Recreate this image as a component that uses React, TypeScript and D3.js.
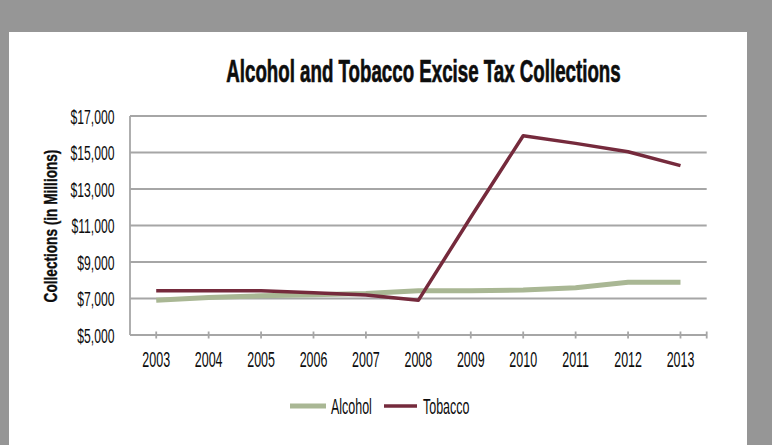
import React from 'react';
import * as d3 from 'd3';

const years = ['2003', '2004', '2005', '2006', '2007', '2008', '2009', '2010', '2011', '2012', '2013'];
const alcohol = [6900, 7050, 7150, 7200, 7280, 7430, 7430, 7460, 7590, 7890, 7890];
const tobacco = [7430, 7430, 7430, 7320, 7190, 6900, 11450, 15920, 15500, 15040, 14280];
const yTicks = [5000, 7000, 9000, 11000, 13000, 15000, 17000];
const seriesNames = ['Alcohol', 'Tobacco'];
const title = 'Alcohol and Tobacco Excise Tax Collections';
const yTitle = 'Collections (in Millions)';

const W = 772;
const H = 445;
const BG = '#969696';
const GRID = '#a6a6a6';
const C_ALC = '#a9b794';
const C_TOB = '#752a3c';
const FONT = '"Liberation Sans", Arial, sans-serif';
const SX = 0.58;
const INK = '#0d0d0d';

const plot = { left: 130, right: 706.7, top: 116, bottom: 335 };

function CText({ x, y, anchor = 'middle', size = 21, weight = 400, sx = SX, rot = 0, stroke = 0, children }: any) {
  return (
    <text
      transform={`translate(${x},${y}) rotate(${rot}) scale(${sx},1)`}
      textAnchor={anchor}
      fontFamily={FONT}
      fontSize={size}
      fontWeight={weight}
      fill={INK}
      stroke={stroke ? INK : 'none'}
      strokeWidth={stroke}
    >
      {children}
    </text>
  );
}

export default function App() {
  const x = d3.scalePoint<string>().domain(years).range([plot.left, plot.right]).padding(0.5);
  const y = d3.scaleLinear().domain([5000, 17000]).range([plot.bottom, plot.top]);
  const line = d3
    .line<number>()
    .x((_, i) => x(years[i]) as number)
    .y((d) => y(d));
  const fmt = (v: number) => '$' + d3.format(',')(v);

  const legendY = 406;

  return (
    <svg width={W} height={H} style={{ position: 'absolute', left: 0, top: 0 }}>
      <rect x={0} y={0} width={W} height={H} fill={BG} />
      <rect x={9} y={32} width={738} height={H - 32} fill="#ffffff" />

      <CText x={423.5} y={81.5} size={32} weight={700} sx={0.585} stroke={0.7}>
        {title}
      </CText>

      {yTicks.map((t) => (
        <g key={t}>
          {t !== 5000 && (
            <line x1={plot.left} x2={plot.right} y1={y(t)} y2={y(t)} stroke={GRID} strokeWidth={1.8} />
          )}
          <CText x={114.5} y={y(t) + 7.5} anchor="end" size={21}>
            {fmt(t)}
          </CText>
        </g>
      ))}

      <line x1={plot.left} x2={plot.left} y1={plot.top} y2={plot.bottom} stroke={GRID} strokeWidth={1.8} />
      <line x1={plot.left} x2={plot.right} y1={plot.bottom} y2={plot.bottom} stroke={GRID} strokeWidth={1.8} />
      {years.map((yr) => (
        <g key={yr}>
          <line
            x1={x(yr)}
            x2={x(yr)}
            y1={plot.bottom - 3.5}
            y2={plot.bottom + 3.5}
            stroke={GRID}
            strokeWidth={1.8}
          />
          <CText x={x(yr) as number} y={366.5} size={21.5}>
            {yr}
          </CText>
        </g>
      ))}
      <line
        x1={plot.right}
        x2={plot.right}
        y1={plot.bottom - 3.5}
        y2={plot.bottom + 3.5}
        stroke={GRID}
        strokeWidth={1.8}
      />

      <CText x={57} y={(plot.top + plot.bottom) / 2 + 0.5} rot={-90} size={18} weight={700} sx={0.757} stroke={0.35}>
        {yTitle}
      </CText>

      <path d={line(alcohol) || ''} fill="none" stroke={C_ALC} strokeWidth={5} strokeLinejoin="round" />
      <path d={line(tobacco) || ''} fill="none" stroke={C_TOB} strokeWidth={3.5} strokeLinejoin="round" />

      <line x1={290} x2={326} y1={legendY} y2={legendY} stroke={C_ALC} strokeWidth={5} />
      <CText x={331} y={legendY + 7.5} anchor="start" size={21.5}>
        {seriesNames[0]}
      </CText>
      <line x1={384} x2={417} y1={legendY} y2={legendY} stroke={C_TOB} strokeWidth={3.5} />
      <CText x={423} y={legendY + 7.5} anchor="start" size={21.5}>
        {seriesNames[1]}
      </CText>
    </svg>
  );
}
